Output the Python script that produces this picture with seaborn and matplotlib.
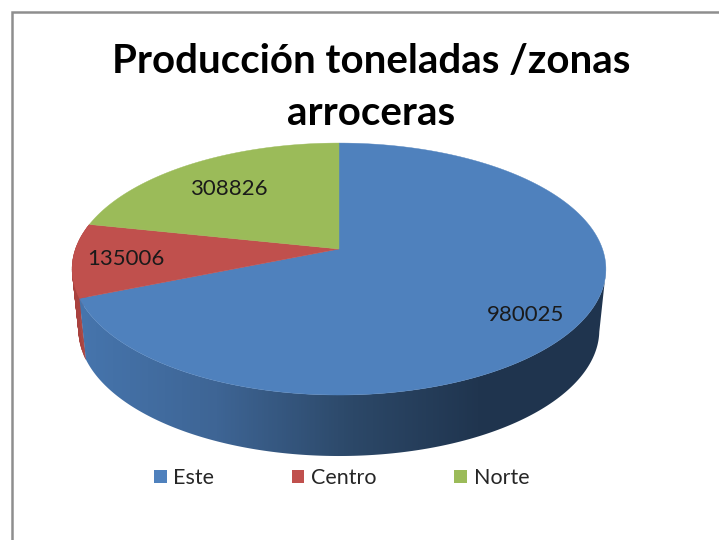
import numpy as np
import matplotlib
matplotlib.use("Agg")
import matplotlib.pyplot as plt
from matplotlib.colors import LinearSegmentedColormap
from matplotlib.patches import Polygon, Patch
import seaborn as sns

# datos
zonas = ["Este", "Centro", "Norte"]
produccion = [980025, 135006, 308826]
titulo = "Producción toneladas /zonas\narroceras"

sns.set_style("white")
plt.rcParams["font.family"] = ["Lato", "DejaVu Sans"]
colores = sns.color_palette(["#4F81BD", "#C0504D", "#9BBB59"])

fig = plt.figure(figsize=(7.19, 5.40), dpi=100)
ax = fig.add_axes([0, 0, 1, 1])
ax.set_xlim(0, 719)
ax.set_ylim(540, 0)
ax.axis("off")

# marco del grafico
ax.plot([11.5, 11.5, 719], [540, 12.2, 12.2], color="#8e8e8e", lw=1.8, solid_joinstyle="miter")


# proyeccion en perspectiva del circulo, angulo en grados desde las 12 en sentido horario
def aro(ang, y0=249.0, rx=263.5, ry=122.8, k=0.159):
    t = np.radians(ang)
    u, v = np.sin(t), np.cos(t)
    d = 1 + k * v
    return np.column_stack([339 + rx * u / d, y0 - ry * v / d])


def aro_abajo(ang):
    return aro(ang, y0=310.0, rx=257.0)


fracc = np.array(produccion) / sum(produccion)
limites = np.concatenate([[0], np.cumsum(fracc) * 360])

# lado rojo (solo asoma a la izquierda)
a_rojo = np.linspace(limites[1], limites[2], 40)
for a, b in zip(a_rojo[:-1], a_rojo[1:]):
    quad = np.vstack([aro([a, b]), aro_abajo([b, a])])
    ax.add_patch(Polygon(quad, fc="#a9423f", ec="#a9423f", lw=0.3, zorder=2))

# lado azul con degradado
a_azul = np.linspace(100, limites[1], 200)
lado = np.vstack([aro(a_azul), aro_abajo(a_azul[::-1])])
mapa = LinearSegmentedColormap.from_list(
    "lado", [(0, "#4675ad"), (0.26, "#3e6595"), (0.52, "#2c4868"), (0.76, "#20354f"), (1, "#1f344e")]
)
grad = np.linspace(0, 1, 540).reshape(1, -1)
img = ax.imshow(grad, cmap=mapa, extent=(78, 606, 460, 260), aspect="auto", zorder=3)
img.set_clip_path(Polygon(lado, transform=ax.transData))
ax.set_xlim(0, 719)
ax.set_ylim(540, 0)

# caras de arriba
for i in range(len(zonas)):
    ang = np.linspace(limites[i], limites[i + 1], 200)
    cara = np.vstack([aro(ang), [[339, 249]]])
    ax.add_patch(Polygon(cara, fc=colores[i], ec=colores[i], lw=0.3, zorder=4))

# etiquetas
pos_etiquetas = [(525.5, 315), (126, 259), (229, 189)]
for val, (x, y) in zip(produccion, pos_etiquetas):
    ax.text(x, y, str(val), ha="center", va="center", fontsize=16, color="#1a1a1a", zorder=5)

ax.text(371.5, 87.5, titulo, ha="center", va="center", fontsize=29, fontweight="bold",
        color="black", linespacing=1.53)

handles = [Patch(fc=c, ec="none", label=z) for c, z in zip(colores, zonas)]
ax.legend(handles=handles, ncol=3, loc="center", bbox_to_anchor=(341.5 / 719, 1 - 478 / 540),
          frameon=False, fontsize=15.5, handlelength=0.6, handleheight=0.6, handletextpad=0.32,
          columnspacing=3.58, labelcolor="#262626")

fig.savefig("out.png", dpi=100)
